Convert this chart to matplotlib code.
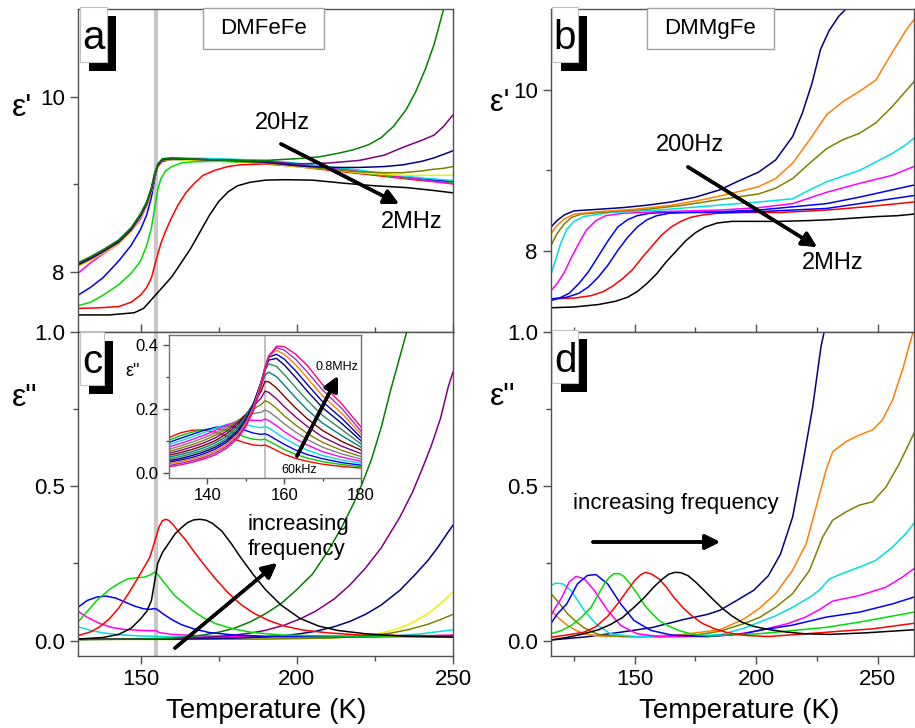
import matplotlib
matplotlib.use('Agg')
import matplotlib.pyplot as plt
from matplotlib.patches import Rectangle
from matplotlib.ticker import FormatStrFormatter

plt.rcParams['font.family'] = ['Liberation Sans', 'DejaVu Sans']

# ---------------- panel a : eps' DMFeFe ----------------
a_black_T = [130, 140, 148, 151, 154, 157, 160, 163, 166, 169, 172, 175, 178, 181, 185, 190, 196, 205, 215, 225, 235, 243, 250]
a_black = [7.505, 7.505, 7.53, 7.58, 7.70, 7.82, 7.94, 8.10, 8.26, 8.45, 8.64, 8.80, 8.91, 8.98, 9.02, 9.045, 9.05, 9.045, 9.01, 8.98, 8.96, 8.93, 8.90]
a_red_T = [130, 136, 143, 147, 150, 152, 153.5, 155, 156.5, 158, 160, 162, 164.5, 167, 170, 174, 178, 182, 190, 200, 210, 220, 230, 240, 250]
a_red = [7.58, 7.585, 7.60, 7.65, 7.73, 7.82, 7.93, 8.13, 8.32, 8.46, 8.62, 8.76, 8.90, 9.00, 9.10, 9.16, 9.20, 9.22, 9.23, 9.20, 9.16, 9.12, 9.08, 9.04, 9.01]
a_green_T = [130, 134, 138, 143, 147, 150, 152, 153.5, 154.5, 155.5, 156.5, 158, 160, 163, 167, 175, 190, 200, 210, 220, 230, 240, 250]
a_green = [7.61, 7.65, 7.73, 7.85, 7.98, 8.12, 8.30, 8.50, 8.72, 8.93, 9.06, 9.15, 9.20, 9.24, 9.255, 9.26, 9.24, 9.21, 9.17, 9.13, 9.09, 9.05, 9.02]
a_blue_T = [130, 134, 138, 143, 147, 150, 152, 153.5, 154.5, 155.5, 157, 160, 165, 175, 190, 200, 210, 220, 230, 240, 250]
a_blue = [7.73, 7.82, 7.93, 8.12, 8.30, 8.48, 8.65, 8.85, 9.05, 9.20, 9.26, 9.28, 9.28, 9.27, 9.25, 9.22, 9.18, 9.14, 9.10, 9.06, 9.03]
a_mid_T = [130, 134, 138, 143, 147, 150, 152, 153.5, 154.5, 155.5, 157, 160, 175, 190, 200, 210, 220, 230, 240, 250]
a_magenta = [7.98, 8.10, 8.20, 8.32, 8.46, 8.60, 8.75, 8.92, 9.08, 9.20, 9.27, 9.29, 9.28, 9.26, 9.23, 9.19, 9.15, 9.10, 9.05, 9.00]
a_cyan = [8.07, 8.15, 8.24, 8.36, 8.50, 8.64, 8.78, 8.94, 9.10, 9.21, 9.28, 9.30, 9.29, 9.27, 9.24, 9.20, 9.16, 9.11, 9.07, 9.04]
a_hi_T = [130, 134, 138, 143, 147, 150, 152, 153.5, 154.5, 155.5, 157, 160, 170, 180, 190, 200, 210, 220, 228, 234, 240, 244, 247, 250]
a_yellow = [8.06, 8.13, 8.21, 8.32, 8.46, 8.62, 8.76, 8.92, 9.08, 9.19, 9.27, 9.28, 9.27, 9.26, 9.24, 9.20, 9.17, 9.13, 9.11, 9.10, 9.10, 9.10, 9.10, 9.10]
a_olive = [8.07, 8.14, 8.22, 8.33, 8.47, 8.63, 8.77, 8.93, 9.09, 9.20, 9.27, 9.29, 9.28, 9.26, 9.24, 9.21, 9.17, 9.14, 9.13, 9.13, 9.15, 9.17, 9.18, 9.20]
a_navy = [8.08, 8.15, 8.23, 8.34, 8.48, 8.64, 8.78, 8.94, 9.10, 9.21, 9.28, 9.29, 9.28, 9.27, 9.25, 9.21, 9.19, 9.19, 9.20, 9.22, 9.26, 9.30, 9.34, 9.38]
a_purple = [8.09, 8.16, 8.24, 8.35, 8.49, 8.65, 8.79, 8.95, 9.11, 9.22, 9.28, 9.29, 9.28, 9.27, 9.26, 9.23, 9.24, 9.27, 9.33, 9.42, 9.50, 9.56, 9.66, 9.79]
a_dkgreen_T = [130, 134, 138, 143, 147, 150, 152, 153.5, 154.5, 155.5, 157, 160, 170, 180, 190, 200, 207, 213, 218, 223, 227, 231, 235, 238, 241, 244, 247, 250]
a_dkgreen = [8.10, 8.17, 8.25, 8.36, 8.50, 8.66, 8.80, 8.96, 9.12, 9.23, 9.29, 9.30, 9.28, 9.27, 9.27, 9.29, 9.31, 9.35, 9.39, 9.45, 9.53, 9.66, 9.85, 10.05, 10.3, 10.6, 11.0, 11.5]

# ---------------- panel c : eps'' DMFeFe ----------------
c_black_T = [130, 138, 143, 147, 150, 152, 153.5, 154.5, 155.5, 157, 159, 161, 163, 165, 167, 169, 171, 173, 176, 179, 182, 186, 190, 195, 201, 207, 213, 222, 235, 250]
c_black = [.005, .01, .02, .04, .07, .095, .13, .19, .25, .285, .315, .345, .365, .382, .391, .393, .39, .38, .355, .315, .27, .215, .165, .115, .072, .047, .033, .022, .014, .011]
c_red_T = [130, 134, 137, 140, 143, 146, 149, 151, 153, 154.5, 156, 157, 158, 159, 160.5, 162, 164.5, 167, 170, 174, 178, 182, 186, 191, 196, 202, 210, 220, 235, 250]
c_red = [.016, .028, .045, .07, .105, .15, .2, .235, .27, .32, .37, .388, .393, .39, .375, .355, .325, .29, .25, .2, .155, .118, .09, .065, .047, .034, .025, .018, .016, .016]
c_green_T = [130, 133, 136, 140, 143, 146, 149, 151, 153, 154.5, 155.5, 157, 159, 161, 164, 167, 170, 174, 180, 186, 195, 210, 230, 250]
c_green = [.06, .095, .13, .165, .185, .2, .204, .205, .212, .222, .215, .195, .17, .145, .12, .095, .075, .055, .037, .026, .018, .015, .014, .015]
c_blue_T = [130, 133, 136, 139, 142, 145, 148, 151, 153, 154.5, 155.5, 157, 160, 163, 167, 172, 180, 190, 210, 230, 250]
c_blue = [.108, .13, .141, .144, .138, .125, .112, .103, .101, .104, .1, .088, .068, .052, .038, .026, .018, .014, .013, .013, .013]
c_magenta_T = [130, 133, 137, 141, 145, 150, 153, 155, 156, 160, 170, 190, 220, 240, 250]
c_magenta = [.095, .075, .055, .042, .036, .033, .032, .032, .026, .02, .015, .012, .012, .015, .018]
c_cyan_T = [130, 134, 138, 143, 150, 160, 180, 210, 230, 240, 250]
c_cyan = [.045, .033, .025, .019, .015, .012, .01, .01, .014, .022, .035]
c_yellow_T = [130, 160, 190, 210, 220, 226, 232, 237, 242, 246, 250]
c_yellow = [.004, .004, .005, .008, .013, .022, .037, .058, .087, .12, .157]
c_olive_T = [130, 160, 190, 210, 222, 230, 236, 242, 246, 250]
c_olive = [.004, .004, .005, .008, .014, .024, .036, .053, .068, .085]
c_navy_T = [130, 160, 180, 190, 196, 201, 206, 212, 217, 222, 227, 233, 238, 242, 245, 248, 250]
c_navy = [.004, .005, .008, .012, .016, .022, .03, .045, .062, .085, .115, .163, .215, .26, .3, .345, .374]
c_purple_T = [130, 160, 170, 176, 180, 185, 190, 196, 201, 206, 212, 217, 222, 227, 233, 237, 240, 243, 246, 248.5, 250]
c_purple = [.004, .006, .01, .014, .018, .024, .033, .05, .07, .095, .135, .18, .235, .3, .4, .48, .553, .63, .72, .823, .87]
c_dkgreen_T = [130, 150, 160, 165, 170, 175, 180, 185, 190, 195, 200, 205, 210, 214, 218, 221, 224, 227, 230, 233, 236, 240]
c_dkgreen = [.003, .005, .008, .012, .018, .027, .04, .06, .087, .12, .165, .215, .29, .36, .44, .51, .59, .69, .81, .92, 1.03, 1.2]

# ---------------- inset : eps'' 60kHz .. 0.8MHz ----------------
inset_T = [130, 133, 136, 139, 142, 145, 148, 150, 152, 154, 155, 156, 158, 160, 163, 166, 170, 175, 180]
in_red = [.110, .125, .133, .134, .127, .114, .101, .093, .087, .085, .087, .082, .070, .058, .045, .036, .027, .020, .015]
in_green = [.102, .116, .127, .135, .138, .133, .120, .111, .105, .103, .105, .099, .086, .073, .058, .046, .035, .026, .019]
in_blue = [.095, .108, .120, .132, .142, .147, .141, .132, .124, .120, .122, .117, .103, .089, .071, .057, .044, .032, .024]
in_cyan = [.088, .100, .112, .125, .139, .151, .156, .151, .144, .141, .145, .140, .124, .108, .088, .071, .054, .040, .030]
in_magenta = [.081, .092, .104, .117, .132, .149, .162, .165, .164, .163, .168, .163, .147, .129, .106, .087, .066, .049, .036]
in_gray = [.074, .084, .096, .109, .124, .143, .164, .177, .185, .189, .196, .191, .173, .153, .127, .104, .080, .059, .043]
in_olive = [.067, .077, .088, .101, .117, .137, .162, .182, .200, .213, .225, .220, .201, .178, .149, .123, .095, .070, .051]
in_purple = [.061, .070, .081, .093, .109, .130, .158, .182, .208, .234, .255, .251, .231, .207, .174, .145, .112, .083, .060]
in_darkred = [.055, .063, .073, .085, .100, .122, .152, .180, .215, .255, .285, .284, .265, .239, .202, .169, .132, .098, .071]
in_teal = [.049, .057, .066, .078, .093, .114, .145, .176, .218, .272, .305, .314, .300, .274, .234, .197, .155, .116, .080]
in_dkgreen = [.043, .051, .060, .071, .086, .107, .139, .172, .218, .281, .320, .340, .332, .307, .266, .226, .179, .135, .090]
in_navy = [.038, .045, .054, .065, .080, .101, .133, .167, .215, .284, .326, .352, .357, .337, .297, .255, .203, .154, .100]
in_blue2 = [.033, .040, .048, .059, .074, .095, .127, .162, .211, .284, .330, .361, .370, .355, .318, .276, .222, .170, .110]
in_orange = [.028, .035, .043, .053, .068, .089, .121, .156, .206, .280, .330, .365, .382, .370, .337, .296, .240, .186, .120]
in_violet = [.023, .030, .038, .048, .062, .083, .115, .150, .200, .275, .326, .366, .390, .383, .354, .315, .258, .201, .130]
in_pink = [.019, .025, .033, .043, .056, .077, .109, .144, .194, .268, .320, .364, .395, .394, .370, .335, .275, .215, .143]

# ---------------- panel b : eps' DMMgFe ----------------
b_black_T = [115.5, 125, 135, 142, 147, 151, 155, 159, 163, 167, 171, 175, 179, 184, 190, 200, 210, 222, 230, 240, 250, 258, 265]
b_black = [7.30, 7.31, 7.34, 7.38, 7.43, 7.50, 7.60, 7.72, 7.87, 8.00, 8.13, 8.23, 8.30, 8.35, 8.37, 8.37, 8.37, 8.38, 8.39, 8.41, 8.43, 8.44, 8.46]
b_red_T = [115.5, 125, 132, 137, 141, 145, 149, 153, 157, 161, 165, 169, 173, 178, 184, 195, 210, 229, 245, 265]
b_red = [7.41, 7.42, 7.45, 7.50, 7.57, 7.66, 7.77, 7.92, 8.06, 8.20, 8.30, 8.37, 8.42, 8.45, 8.47, 8.48, 8.48, 8.51, 8.55, 8.61]
b_blue2_T = [115.5, 122, 127, 131, 135, 139, 143, 147, 151, 155, 159, 164, 170, 180, 201, 229, 242.5, 265]
b_blue2 = [7.41, 7.43, 7.48, 7.56, 7.68, 7.83, 8.01, 8.17, 8.30, 8.39, 8.44, 8.47, 8.48, 8.48, 8.49, 8.53, 8.59, 8.69]
b_blue_T = [115.5, 119, 123, 127, 131, 135, 139, 143, 147, 151, 156, 162, 170, 185, 201, 229, 242.5, 256, 265]
b_blue = [7.39, 7.42, 7.48, 7.60, 7.75, 7.94, 8.13, 8.30, 8.39, 8.44, 8.47, 8.48, 8.48, 8.49, 8.51, 8.59, 8.67, 8.76, 8.82]
b_magenta_T = [115.5, 118, 121, 124, 127, 130, 134, 138, 145, 160, 185, 201, 215, 229, 242.5, 256, 265]
b_magenta = [7.51, 7.60, 7.74, 7.93, 8.10, 8.26, 8.38, 8.44, 8.47, 8.49, 8.51, 8.54, 8.59, 8.73, 8.84, 8.94, 9.05]
b_cyan_T = [115.5, 117.5, 119.5, 122, 125, 129, 140, 160, 180, 201, 215, 222, 229, 242.5, 256, 261.7, 265]
b_cyan = [7.72, 7.90, 8.10, 8.27, 8.37, 8.43, 8.48, 8.51, 8.56, 8.61, 8.65, 8.76, 8.86, 9.00, 9.21, 9.32, 9.40]
b_olive_T = [115.5, 118, 121, 124, 128, 140, 155, 170, 185, 201, 208, 215, 222, 229, 235.6, 242.5, 249.3, 256, 265]
b_olive = [8.07, 8.22, 8.34, 8.42, 8.46, 8.49, 8.52, 8.57, 8.64, 8.71, 8.78, 8.90, 9.09, 9.27, 9.38, 9.46, 9.59, 9.79, 10.10]
b_orange_T = [115.5, 118, 121, 125, 135, 150, 165, 180, 193, 201, 208, 215, 222, 229, 235.6, 242.5, 249.3, 256, 262, 265]
b_orange = [8.22, 8.32, 8.40, 8.46, 8.49, 8.52, 8.57, 8.65, 8.74, 8.80, 8.90, 9.09, 9.38, 9.69, 9.85, 9.98, 10.12, 10.46, 10.75, 10.87]
b_navy_T = [115.5, 118, 121, 125, 135, 145, 155, 165, 175, 185, 192, 201, 208, 215, 219, 223, 226.5, 230, 234, 237, 240]
b_navy = [8.30, 8.38, 8.45, 8.50, 8.52, 8.54, 8.57, 8.61, 8.67, 8.76, 8.86, 8.98, 9.13, 9.42, 9.71, 10.08, 10.50, 10.73, 10.91, 11.00, 11.10]

# ---------------- panel d : eps'' DMMgFe ----------------
d_black_T = [115.5, 122, 129, 135, 140, 145, 150, 154, 158, 161, 164, 166.5, 169, 172, 175, 178.5, 182, 186, 190, 194, 199, 205, 212, 220, 230, 245, 265]
d_black = [.002, .01, .022, .035, .052, .075, .11, .14, .175, .197, .215, .221, .22, .21, .19, .163, .135, .105, .08, .06, .046, .036, .028, .022, .02, .025, .035]
d_red_T = [115.5, 122, 129, 134, 139, 143, 147, 150, 152.5, 154.5, 157, 160, 163, 166, 170, 174, 178, 183, 188, 195, 205, 229, 248, 265]
d_red = [.011, .018, .027, .045, .08, .12, .163, .195, .214, .221, .215, .2, .173, .141, .105, .077, .055, .038, .026, .017, .013, .027, .038, .056]
d_green_T = [115.5, 120, 124, 128, 132, 135, 137.5, 139.5, 141.5, 143.5, 145.5, 148, 151, 154, 156.6, 160, 163.5, 168, 173, 180, 201, 229, 242.5, 265]
d_green = [.022, .033, .05, .075, .108, .15, .184, .205, .217, .217, .208, .185, .152, .115, .092, .065, .049, .033, .022, .015, .022, .043, .06, .092]
d_blue_T = [115.5, 118, 122, 126.4, 130.5, 134, 138.8, 144.2, 149.7, 156.6, 165, 180, 195, 201, 215, 228.8, 242.5, 256.2, 265]
d_blue = [.056, .085, .119, .184, .211, .214, .184, .119, .065, .033, .018, .013, .022, .033, .05, .076, .092, .119, .141]
d_magenta_T = [115.5, 117.5, 119.6, 121.5, 123, 125.8, 129.2, 133.3, 138.8, 144.2, 151, 160, 180, 190, 201, 213, 220, 226, 231.5, 242.5, 253.5, 260.3, 265]
d_magenta = [.081, .11, .135, .165, .19, .208, .2, .163, .098, .049, .022, .013, .013, .018, .032, .055, .075, .1, .128, .146, .173, .206, .233]
d_cyan_T = [115.5, 117.5, 120.3, 123.7, 126.5, 129.2, 132, 134.7, 140, 150, 170, 185.6, 195, 201.4, 208, 215, 222, 226, 230.2, 237, 242.5, 249.3, 256.2, 261.7, 265]
d_cyan = [.179, .186, .184, .163, .13, .098, .072, .049, .022, .013, .013, .02, .04, .06, .08, .108, .14, .163, .2, .222, .238, .26, .303, .347, .38]
d_olive_T = [115.5, 119, 122.3, 126, 129.2, 133, 136, 145, 160, 175, 185, 195, 201.4, 208, 215, 222, 227.4, 231.5, 237, 242.5, 248, 253.5, 259, 265]
d_olive = [.152, .12, .087, .06, .041, .026, .018, .013, .012, .018, .03, .055, .075, .108, .152, .228, .336, .39, .417, .439, .45, .498, .574, .672]
d_orange_T = [115.5, 119, 122.3, 126, 129.2, 135, 150, 170, 185, 195, 201.4, 208, 215, 220.6, 224.7, 228.8, 231.5, 237, 242.5, 248, 252, 256.2, 260.3, 263.7, 265]
d_orange = [.098, .07, .049, .032, .022, .015, .012, .02, .035, .07, .105, .152, .228, .314, .433, .553, .612, .645, .666, .683, .715, .78, .878, .975, 1.01]
d_navy_T = [115.5, 130, 145, 157, 170, 180, 185, 192, 199, 205, 210, 215, 219.2, 223.3, 226.7, 228, 230]
d_navy = [.002, .012, .028, .042, .068, .085, .098, .13, .163, .21, .28, .40, .574, .758, .953, 1.0, 1.1]

W, H = 915, 728
fig = plt.figure(figsize=(W / 100, H / 100), dpi=100)


def frac(x, y):
    return x / W, 1 - y / H


def box(x0, y0, x1, y1):
    return [x0 / W, 1 - y1 / H, (x1 - x0) / W, (y1 - y0) / H]


def style(ax, size=15):
    for s in ax.spines.values():
        s.set_color('#505050')
        s.set_linewidth(1.0)
    ax.tick_params(which='both', direction='out', color='#505050', width=1, labelsize=size)
    ax.tick_params(which='major', length=6)
    ax.tick_params(which='minor', length=3.5)


def draw(ax, curves, lw=1.1):
    for t, v, c in curves:
        ax.plot(t, v, color=c, lw=lw, solid_joinstyle='round')


ax_a = fig.add_axes(box(78, 9, 453, 332))
ax_c = fig.add_axes(box(78, 332, 453, 656))
ax_b = fig.add_axes(box(551, 9, 914, 332))
ax_d = fig.add_axes(box(551, 332, 914, 656))

# panel a
ax_a.axvline(155, color='#c8c8c8', lw=3, zorder=0)
draw(ax_a, [(a_black_T, a_black, 'black'), (a_red_T, a_red, 'red'),
            (a_green_T, a_green, '#00dd00'), (a_blue_T, a_blue, 'blue'),
            (a_mid_T, a_magenta, 'magenta'), (a_mid_T, a_cyan, '#00e0e0'),
            (a_hi_T, a_yellow, '#f0f000'), (a_hi_T, a_olive, '#808000'),
            (a_hi_T, a_navy, '#000080'), (a_hi_T, a_purple, '#800080'),
            (a_dkgreen_T, a_dkgreen, '#008000')])
ax_a.set_xlim(130, 250)
ax_a.set_ylim(7.31, 11.0)
ax_a.set_yticks([8, 10])
ax_a.set_yticks([9], minor=True)
ax_a.set_xticks([])
style(ax_a, 16)

# panel c
ax_c.axvline(155, color='#c8c8c8', lw=3, zorder=0)
draw(ax_c, [(c_cyan_T, c_cyan, '#00e0e0'), (c_magenta_T, c_magenta, 'magenta'),
            (c_yellow_T, c_yellow, '#f0f000'), (c_olive_T, c_olive, '#808000'),
            (c_navy_T, c_navy, '#000080'), (c_purple_T, c_purple, '#800080'),
            (c_dkgreen_T, c_dkgreen, '#008000'), (c_blue_T, c_blue, 'blue'),
            (c_green_T, c_green, '#00dd00'), (c_red_T, c_red, 'red'),
            (c_black_T, c_black, 'black')])
ax_c.set_xlim(130, 250)
ax_c.set_ylim(-0.05, 1.0)
ax_c.set_xticks([150, 200, 250])
ax_c.set_xticks([175, 225], minor=True)
ax_c.set_yticks([0, 0.5, 1.0])
ax_c.set_yticks([0.25, 0.75], minor=True)
ax_c.yaxis.set_major_formatter(FormatStrFormatter('%.1f'))
style(ax_c, 16)
ax_c.tick_params(which='both', top=True)

# panel b
draw(ax_b, [(b_black_T, b_black, 'black'), (b_red_T, b_red, 'red'),
            (b_blue2_T, b_blue2, 'blue'), (b_blue_T, b_blue, 'blue'),
            (b_magenta_T, b_magenta, 'magenta'), (b_cyan_T, b_cyan, '#00e0e0'),
            (b_olive_T, b_olive, '#808000'), (b_orange_T, b_orange, '#ff8000'),
            (b_navy_T, b_navy, '#000080')])
ax_b.set_xlim(115.5, 265)
ax_b.set_ylim(7.0, 11.0)
ax_b.set_yticks([8, 10])
ax_b.set_yticks([9], minor=True)
ax_b.set_xticks([])
style(ax_b, 16)

# panel d
draw(ax_d, [(d_navy_T, d_navy, '#000080'), (d_orange_T, d_orange, '#ff8000'),
            (d_olive_T, d_olive, '#808000'), (d_cyan_T, d_cyan, '#00e0e0'),
            (d_magenta_T, d_magenta, 'magenta'), (d_blue_T, d_blue, 'blue'),
            (d_green_T, d_green, '#00dd00'), (d_red_T, d_red, 'red'),
            (d_black_T, d_black, 'black')])
ax_d.set_xlim(115.5, 265)
ax_d.set_ylim(-0.05, 1.0)
ax_d.set_xticks([150, 200, 250])
ax_d.set_xticks([125, 175, 225], minor=True)
ax_d.set_yticks([0, 0.5, 1.0])
ax_d.set_yticks([0.25, 0.75], minor=True)
ax_d.yaxis.set_major_formatter(FormatStrFormatter('%.1f'))
style(ax_d, 16)
ax_d.tick_params(which='both', top=True)

# inset
ax_in = fig.add_axes(box(169, 335, 361, 478))
ax_in.axvline(155, color='#b8b8b8', lw=1.2, zorder=0)
inset_curves = [(in_red, 'red'), (in_green, '#00cc00'), (in_blue, 'blue'),
                (in_cyan, '#00e0e0'), (in_magenta, 'magenta'), (in_gray, '#808080'),
                (in_olive, '#808000'), (in_purple, '#800080'), (in_darkred, '#800000'),
                (in_teal, '#008080'), (in_dkgreen, '#2e8b57'), (in_navy, '#000080'),
                (in_blue2, '#0000cc'), (in_orange, '#ff8000'), (in_violet, '#9933cc'),
                (in_pink, '#ff0080')]
draw(ax_in, [(inset_T, v, c) for v, c in inset_curves], lw=1.0)
ax_in.set_xlim(130, 180)
ax_in.set_ylim(-0.016, 0.43)
ax_in.set_xticks([140, 160, 180])
ax_in.set_xticks([150, 170], minor=True)
ax_in.set_yticks([0, 0.2, 0.4])
ax_in.set_yticks([0.1, 0.3], minor=True)
ax_in.yaxis.set_major_formatter(FormatStrFormatter('%.1f'))
style(ax_in, 12)
ax_in.tick_params(which='major', length=4)
ax_in.tick_params(which='minor', length=2.5)
for s in ax_in.spines.values():
    s.set_color('#707070')

# axis labels
fig.text(*frac(22, 108), "ε'", fontsize=23, ha='center', va='center')
fig.text(*frac(25, 398), 'ε"', fontsize=23, ha='center', va='center')
fig.text(*frac(500, 103), "ε'", fontsize=22, ha='center', va='center')
fig.text(*frac(503, 397), 'ε"', fontsize=23, ha='center', va='center')
fig.text(*frac(266, 711), 'Temperature (K)', fontsize=20, ha='center', va='center')
fig.text(*frac(739, 711), 'Temperature (K)', fontsize=20, ha='center', va='center')
fig.text(*frac(133, 372), 'ε"', fontsize=13, ha='center', va='center')


def tag(letter, x0, y0, x1, y1, base):
    fig.add_artist(Rectangle(frac(x0 + 9, y1 + 9), (x1 - x0) / W, (y1 - y0) / H,
                             transform=fig.transFigure, facecolor='black', edgecolor='none'))
    fig.add_artist(Rectangle(frac(x0, y1), (x1 - x0) / W, (y1 - y0) / H,
                             transform=fig.transFigure, facecolor='white',
                             edgecolor='#c0c0c0', lw=0.8))
    fig.text(*frac((x0 + x1) / 2, base), letter, fontsize=29, ha='center', va='baseline')


def namebox(name, x0, y0, x1, y1):
    fig.add_artist(Rectangle(frac(x0, y1), (x1 - x0) / W, (y1 - y0) / H,
                             transform=fig.transFigure, facecolor='white',
                             edgecolor='#a0a0a0', lw=1.0))
    fig.text(*frac((x0 + x1) / 2, (y0 + y1) / 2), name, fontsize=16, ha='center', va='center')


tag('a', 80, 7, 107, 62, 49)
tag('b', 552, 7, 578, 62, 49)
tag('c', 80, 332, 104, 385, 373)
tag('d', 552, 330, 578, 383, 372)
namebox('DMFeFe', 203, 8, 324, 49)
namebox('DMMgFe', 647, 8, 774, 49)


def arrow(x0, y0, x1, y1):
    fig.add_artist(plt.annotate('', xy=frac(x1, y1), xytext=frac(x0, y0),
                                xycoords='figure fraction', textcoords='figure fraction',
                                arrowprops=dict(arrowstyle='-|>', color='black', lw=2.5,
                                                mutation_scale=22, shrinkA=0, shrinkB=0)))


arrow(281, 144, 399, 204)
fig.text(*frac(282, 123), '20Hz', fontsize=17, ha='center', va='center')
fig.text(*frac(412, 222), '2MHz', fontsize=17, ha='center', va='center')

arrow(688, 167, 817, 247)
fig.text(*frac(690, 145), '200Hz', fontsize=17, ha='center', va='center')
fig.text(*frac(833, 263), '2MHz', fontsize=17, ha='center', va='center')

arrow(175, 648, 277, 563)
fig.text(*frac(248, 537), 'increasing\nfrequency', fontsize=16, ha='left', va='center',
         linespacing=1.25)

arrow(593, 542, 720, 542)
fig.text(*frac(573, 503), 'increasing frequency', fontsize=16, ha='left', va='center')

arrow(297, 456, 338, 376)
fig.text(*frac(337, 367), '0.8MHz', fontsize=9, ha='center', va='center')
fig.text(*frac(299, 470), '60kHz', fontsize=9, ha='center', va='center')

fig.savefig('out.png', dpi=100)
